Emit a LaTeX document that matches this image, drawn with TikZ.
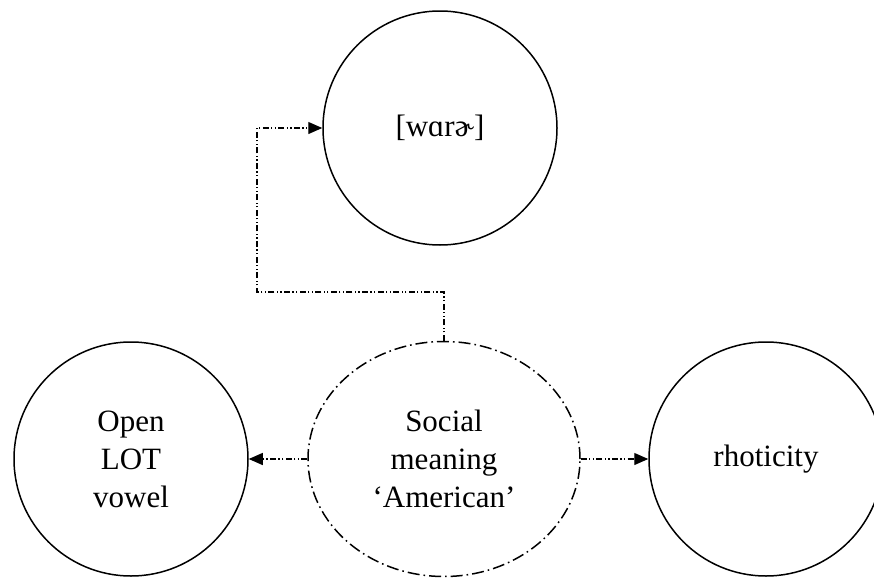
\documentclass[tikz,border=0pt]{standalone}
\usepackage{fontspec}
\setmainfont{Liberation Serif}
\usetikzlibrary{arrows.meta,positioning,shapes.geometric}

\begin{document}
\begin{tikzpicture}[x=0.5pt,y=-0.5pt,
  feat/.style={circle,draw=black,line width=0.75pt,minimum size=117pt,inner sep=0pt,
    align=center,font=\fontsize{15.5}{19}\selectfont},
  meaning/.style={ellipse,draw=black,line width=0.75pt,minimum width=136pt,minimum height=117.5pt,
    inner sep=0pt,align=center,font=\fontsize{15.5}{19}\selectfont,
    dash pattern=on 6pt off 2pt on 0.8pt off 2pt},
  link/.style={-{Triangle[length=7pt,width=6pt]},line width=0.6pt,
    dash pattern=on 3pt off 1.2pt on 0.6pt off 1.2pt on 0.6pt off 1.2pt}
]
\useasboundingbox (0,0) rectangle (874,578);
\node[feat] (form) at (440,128) {[wɑrɚ]};
\node[feat] (lot) at (131,459) {Open\\LOT\\vowel};
\node[meaning] (soc) at (444,459) {Social\\meaning\\‘American’};
\node[feat] (rhot) at (766,459) {rhoticity};
\coordinate (bend) at (257,292);

\draw[link] (soc.north) |- (bend) |- (form.west);
\draw[link] (soc.west) -- (lot.east);
\draw[link] (soc.east) -- (rhot.west);
\end{tikzpicture}
\end{document}
